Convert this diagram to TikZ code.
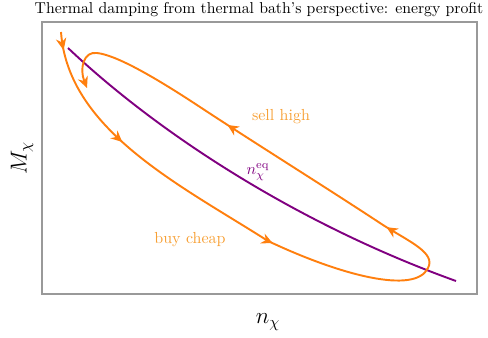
\documentclass[tikz,border=0pt]{standalone}
\usetikzlibrary{arrows.meta,decorations.markings}
\definecolor{orng}{HTML}{FF7F0E}
\definecolor{lorng}{HTML}{F7A035}
\definecolor{purp}{HTML}{800080}
\begin{document}
\begin{tikzpicture}[x=0.625pt,y=-0.625pt,
  frame/.style={draw=black!40,line width=0.8pt},
  orbit/.style={draw=orng,line width=1.2pt},
  eqline/.style={draw=purp,line width=1.2pt},
  midarrow/.style={postaction={decorate},decoration={markings,
    mark=at position 0.02 with {\arrow{Stealth[length=7.5pt,width=6.5pt]}},
    mark=at position 0.14 with {\arrow{Stealth[length=7pt,width=6.5pt]}},
    mark=at position 0.337 with {\arrow{Stealth[length=7pt,width=6.5pt]}},
    mark=at position 0.585 with {\arrow{Stealth[length=7pt,width=6.5pt]}},
    mark=at position 0.79 with {\arrow{Stealth[length=7pt,width=6.5pt]}}}},
  lbl/.style={text=lorng,font=\normalsize}]
\useasboundingbox (0,0) rectangle (488,338);
\coordinate (bl) at (42,294);
\coordinate (tr) at (477,22);
\draw[frame] (bl) rectangle (tr);
\node[font=\fontsize{9.85pt}{12pt}\selectfont] (title) at (259,10) {Thermal damping from thermal bath's perspective: energy profit};
\coordinate (e0) at (68,48);
\coordinate (e1) at (456,281);
\draw[eqline] (e0) .. controls (160,135) and (300,225) .. (e1);
\coordinate (o0) at (61,32);
\coordinate (o1) at (268,241);
\coordinate (o2) at (428,268);
\coordinate (o3) at (383,225);
\coordinate (o4) at (200,107);
\coordinate (o5) at (97,53);
\coordinate (o6) at (87,88);
\draw[orbit,midarrow,-{Stealth[length=7pt,width=6.5pt]}]
  (o0) .. controls (68,130) and (180,185) .. (o1)
       .. controls (340,275) and (415,295) .. (o2)
       .. controls (436,253) and (410,242) .. (o3)
       .. controls (330,190) and (250,140) .. (o4)
       .. controls (150,74) and (115,55) .. (o5)
       .. controls (84,51) and (79,68) .. (o6);
\node[lbl] (sell) at (281,117) {sell high};
\node[lbl] (buy) at (190,240) {buy cheap};
\node[text=purp,inner sep=0pt] (neq) at (258,172) {$n_\chi^{\mathrm{eq}}$};
\node[rotate=90,font=\Large] (ylab) at (22,158) {$M_\chi$};
\node[font=\Large] (xlab) at (268,322) {$n_\chi$};
\end{tikzpicture}
\end{document}
